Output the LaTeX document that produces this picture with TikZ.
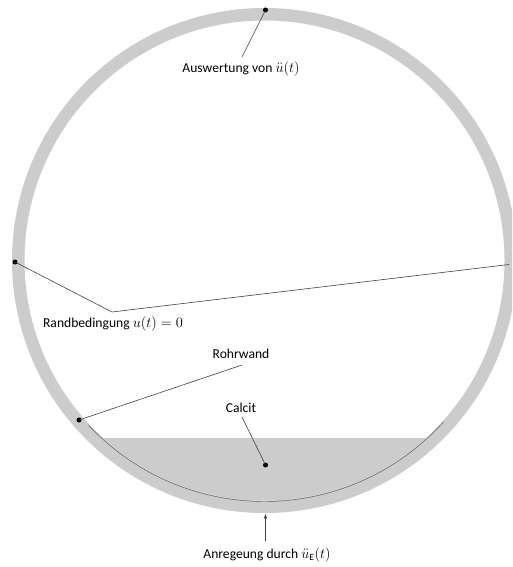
\documentclass[tikz,border=0pt]{standalone}
\usepackage{fontspec}
\setmainfont{Carlito}
\usetikzlibrary{calc,arrows.meta}
\begin{document}
\begin{tikzpicture}[x=1pt,y=-1pt,
  lbl/.style={font=\fontsize{13.6}{16}\selectfont, inner sep=1pt},
  leader/.style={draw=black!75, line width=0.6pt},
  dot/.style={circle, fill=black, inner sep=0pt, minimum size=5pt}]
\useasboundingbox (0,0) rectangle (512,567);
\clip (0,0) rectangle (512,567);
\fill[white] (0,0) rectangle (512,567);
\coordinate (C) at (264.5,260.5);
% calcite
\begin{scope}
\clip (C) circle[radius=240];
\fill[gray!40] (0,438) rectangle (512,567);
\end{scope}
% ring
\fill[gray!40, even odd rule] (C) circle[radius=252.5] (C) circle[radius=240];
% inner arc
\draw[black!65, line width=0.45pt] ($(C)+(137:241)$) arc[start angle=137, end angle=42, radius=241];
% dots
\node[dot] (dtop) at (265.5,10) {};
\node[dot] (dleft) at (15,262) {};
\node[dot] (dwall) at (79,420) {};
\node[dot] (dcal) at (265.5,465) {};
\coordinate (rend) at (509,264.5);
\coordinate (knee) at (112,312);
\coordinate (ebot) at (265.5,514);
\coordinate (eaus) at (242,57);
\coordinate (erohr) at (242,365);
\coordinate (ecal) at (242,417);
\coordinate (eanr) at (265.5,541);
% labels
\node[lbl] (laus) at (241,69) {Auswertung von $\ddot u(t)$};
\node[lbl] (lrand) at (113,323.5) {Randbedingung $u(t)=0$};
\node[lbl] (lrohr) at (241,354) {Rohrwand};
\node[lbl] (lcal) at (241,407.5) {Calcit};
\node[lbl] (lanr) at (267,555) {Anregeung durch $\ddot u_{\mathrm{E}}(t)$};
% leaders
\draw[leader] (dtop.center) -- (eaus);
\draw[leader] (dleft.center) -- (knee) -- (rend);
\draw[leader] (dwall.center) -- (erohr);
\draw[leader] (dcal.center) -- (ecal);
\draw[leader, -{Stealth[length=5pt,width=3.5pt]}] (eanr) -- (ebot);
\end{tikzpicture}
\end{document}
